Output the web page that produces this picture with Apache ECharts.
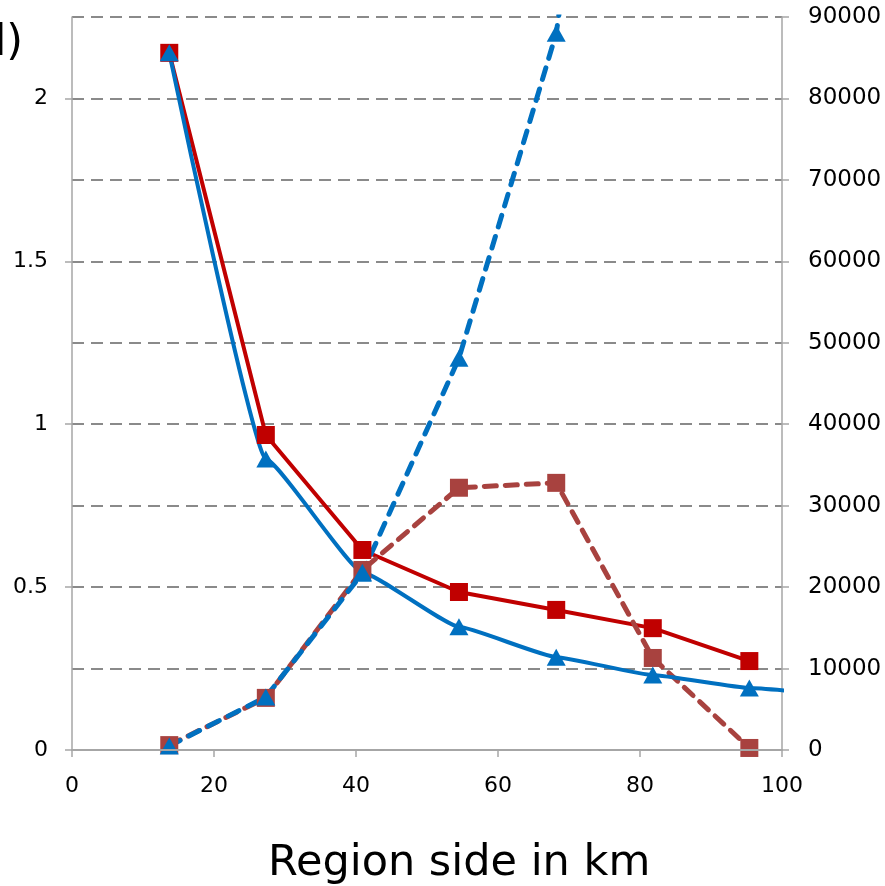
<!DOCTYPE html>
<html>
<head>
<meta charset="utf-8">
<script src="https://cdn.jsdelivr.net/npm/echarts@6/dist/echarts.min.js"></script>
<style>
  html, body { margin: 0; padding: 0; background: #fff; }
  #chart { width: 885px; height: 886px; }
</style>
</head>
<body>
<div id="chart"></div>
<script>
// region side (km)
const sides = [13.7, 27.3, 40.9, 54.5, 68.2, 81.8, 95.4]
// left axis series
const redSolid = [2.14, 0.967, 0.614, 0.485, 0.430, 0.374, 0.273]
const blueSolid = [2.14, 0.893, 0.546, 0.378, 0.285, 0.230, 0.190, 0.165]
const blueSolidX = [13.7, 27.3, 40.9, 54.5, 68.2, 81.8, 95.4, 109]
// right axis series
const brownDashed = [600, 6400, 22100, 32200, 32800, 11300, 250]
const blueDashed = [500, 6500, 21700, 48100, 88000, 170000]
const leftTicks = [0, 0.5, 1, 1.5, 2]

const pairs = (xs, ys) => ys.map((y, i) => [xs[i], y])

const chart = echarts.init(document.getElementById('chart'))

const axisGray = '#a6a6a6'
const labelFont = { color: '#000', fontSize: 23, fontFamily: 'DejaVu Sans' }

chart.setOption({
  animation: false,
  grid: { left: 72, right: 103, top: 17, bottom: 136 },
  graphic: [
    { type: 'text', left: 268, top: 842, style: { text: 'Region side in km', fontSize: 43, fontFamily: 'DejaVu Sans', fill: '#000' } },
    { type: 'text', left: -21, top: 22, style: { text: 'd)', fontSize: 43, fontFamily: 'DejaVu Sans', fill: '#000' } }
  ],
  xAxis: {
    type: 'value', min: 0, max: 100, interval: 20, z: 5,
    axisLine: { show: true, lineStyle: { color: axisGray, width: 2 } },
    axisTick: { show: true, length: 7, lineStyle: { color: axisGray, width: 1.5 } },
    axisLabel: { ...labelFont, fontSize: 22, margin: 25 },
    splitLine: { show: false }
  },
  yAxis: [
    {
      type: 'value', min: 0, max: 2.25, interval: 0.25,
      axisLine: { show: true, lineStyle: { color: axisGray, width: 1.5 } },
      axisTick: { show: true, length: 7, customValues: leftTicks, lineStyle: { color: axisGray, width: 1.5 } },
      axisLabel: { ...labelFont, fontSize: 22, margin: 24, customValues: leftTicks },
      splitLine: { show: false }
    },
    {
      type: 'value', min: 0, max: 90000, interval: 10000,
      axisLine: { show: true, lineStyle: { color: axisGray, width: 1.5 } },
      axisTick: { show: true, length: 7, lineStyle: { color: axisGray, width: 1.5 } },
      axisLabel: { ...labelFont, margin: 26, formatter: v => String(v) },
      splitLine: { show: true, lineStyle: { color: '#8a8a8a', width: 2, type: [12, 7] } }
    }
  ],
  series: [
    {
      name: 'red', type: 'line', yAxisIndex: 0, data: pairs(sides, redSolid),
      symbol: 'rect', symbolSize: 18, clip: true,
      lineStyle: { color: '#C00000', width: 4 },
      itemStyle: { color: '#C00000' }
    },
    {
      name: 'brown', type: 'line', yAxisIndex: 1, data: pairs(sides, brownDashed),
      symbol: 'rect', symbolSize: 18, clip: true,
      lineStyle: { color: '#A8423F', width: 5, type: [12, 9], cap: 'round' },
      itemStyle: { color: '#A8423F' }
    },
    {
      name: 'blue', type: 'line', yAxisIndex: 0, data: pairs(blueSolidX, blueSolid),
      symbol: 'triangle', symbolSize: [19, 17], clip: true, smooth: 0.12, smoothMonotone: 'x',
      lineStyle: { color: '#0070C0', width: 4 },
      itemStyle: { color: '#0070C0' }
    },
    {
      name: 'blueDash', type: 'line', yAxisIndex: 1, data: pairs(sides, blueDashed),
      symbol: 'triangle', symbolSize: [19, 17], clip: true,
      lineStyle: { color: '#0070C0', width: 5, type: [12, 10], cap: 'round' },
      itemStyle: { color: '#0070C0' }
    }
  ]
})
</script>
</body>
</html>
